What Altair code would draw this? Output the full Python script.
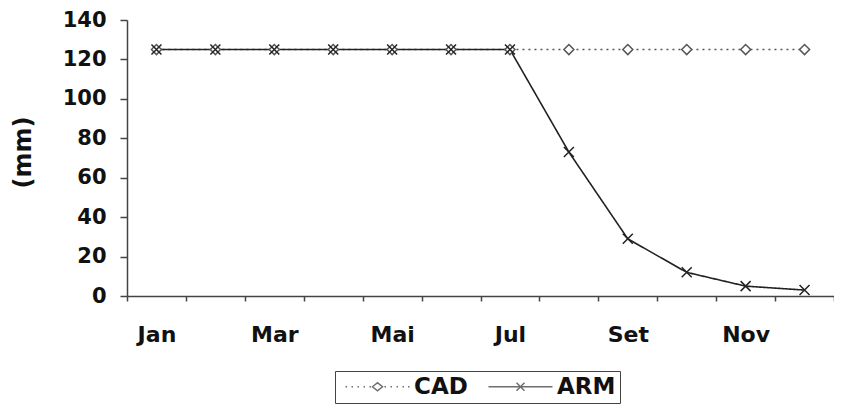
import altair as alt
import pandas as pd

months = ["Jan", "Fev", "Mar", "Abr", "Mai", "Jun", "Jul", "Ago", "Set", "Out", "Nov", "Dez"]
shown_labels = ["Jan", "Mar", "Mai", "Jul", "Set", "Nov"]
cad = [125, 125, 125, 125, 125, 125, 125, 125, 125, 125, 125, 125]
arm = [125, 125, 125, 125, 125, 125, 125, 73, 29, 12, 5, 3]
series_names = ["CAD", "ARM"]
y_ticks = [0, 20, 40, 60, 80, 100, 120, 140]

df = pd.DataFrame(
    {
        "month": months * 2,
        "value": cad + arm,
        "series": ["CAD"] * len(months) + ["ARM"] * len(months),
    }
)

FONT = "DejaVu Sans"
label_expr = (
    "indexof([" + ",".join("'" + m + "'" for m in shown_labels) + "], datum.value) >= 0 ? datum.value : ''"
)

x_enc = alt.X(
    "month:N",
    sort=months,
    bandPosition=0.5,
    scale=alt.Scale(type="band", paddingInner=0, paddingOuter=0),
    axis=alt.Axis(
        title=None,
        tickBand="extent",
        labelExpr=label_expr,
        labelOverlap=False,
        labelAngle=0,
        tickSize=5,
        labelPadding=23,
        labelFontSize=22,
    ),
)
y_enc = alt.Y(
    "value:Q",
    scale=alt.Scale(domain=[0, 140], nice=False),
    axis=alt.Axis(
        values=y_ticks,
        title="(mm)",
        titleFontSize=24,
        titleX=-104,
        titleY=132,
        titleAngle=-90,
        titleAlign="center",
        titleBaseline="middle",
        tickSize=7,
        labelPadding=14,
        labelFontSize=21,
        grid=False,
    ),
)

color_scale = alt.Scale(domain=series_names, range=["#555555", "#222222"])

lines = (
    alt.Chart(df)
    .mark_line(strokeWidth=1.6)
    .encode(
        x=x_enc,
        y=y_enc,
        color=alt.Color("series:N", scale=color_scale, legend=None),
        strokeDash=alt.StrokeDash(
            "series:N",
            scale=alt.Scale(domain=series_names, range=[[2, 4], [1, 0]]),
            legend=None,
        ),
    )
)

x_path = "M-1,-1L1,1M-1,1L1,-1"
points = (
    alt.Chart(df)
    .mark_point(size=100, strokeWidth=1.5, fill="white", opacity=1)
    .encode(
        x=x_enc,
        y=y_enc,
        color=alt.Color("series:N", scale=color_scale, legend=None),
        shape=alt.Shape(
            "series:N",
            scale=alt.Scale(domain=series_names, range=["diamond", x_path]),
            legend=None,
        ),
    )
)

# legend symbols: line + marker drawn as one path (units of 5px, symbol size 100)
dots = "".join(
    "M{:.2f},0L{:.2f},0".format(s, s + 0.3) for s in [-1.0, 0.2, 1.4, 2.6, 3.8, 6.8, 8.0, 9.2, 10.4, 11.5]
)
cad_symbol = dots + "M4.4,0L5.4,-0.8L6.4,0L5.4,0.8Z"
arm_symbol = "M-1,0L11.8,0M4.6,-0.8L6.2,0.8M4.6,0.8L6.2,-0.8"

legend_layer = (
    alt.Chart(df)
    .transform_filter("false")
    .mark_point(strokeWidth=1.5)
    .encode(
        x=x_enc,
        y=y_enc,
        shape=alt.Shape(
            "series:N",
            scale=alt.Scale(domain=series_names, range=[cad_symbol, arm_symbol]),
            legend=alt.Legend(
                title=None,
                orient="none",
                legendX=208,
                legendY=351,
                direction="horizontal",
                symbolSize=100,
                symbolStrokeWidth=1.5,
                symbolStrokeColor="#333333",
                symbolFillColor="white",
                labelFontSize=23,
                labelFont=FONT,
                labelFontWeight="bold",
                labelColor="#111111",
                labelOffset=52,
                columnPadding=14,
                padding=4,
                strokeColor="#444444",
            ),
        ),
    )
)

chart = (
    alt.layer(lines, points, legend_layer)
    .resolve_scale(shape="independent")
    .properties(
        width=707,
        height=276,
        autosize=alt.AutoSizeParams(type="none"),
        padding={"left": 119, "top": 12, "right": 0, "bottom": 110},
        background="white",
    )
    .configure_view(stroke=None)
    .configure_axis(
        domainColor="#444444",
        tickColor="#444444",
        domainWidth=1.5,
        tickWidth=1.5,
        labelColor="#111111",
        titleColor="#111111",
        labelFont=FONT,
        titleFont=FONT,
        labelFontWeight="bold",
        titleFontWeight="bold",
    )
)

chart.save("out.html", embed_options={"renderer": "svg", "actions": False})
